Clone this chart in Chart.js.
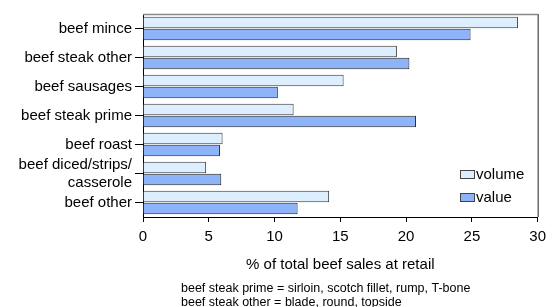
<!DOCTYPE html>
<html>
<head>
  <meta charset="utf-8">
  <script src="https://cdn.jsdelivr.net/npm/chart.js"></script>
  <style>
    html, body { margin: 0; padding: 0; background: #fff; }
    #wrap { width: 552px; height: 307px; }
  </style>
</head>
<body>
  <div id="wrap"><canvas id="beefChart"></canvas></div>
  <script>
    const categories = [
      'beef mince',
      'beef steak other',
      'beef sausages',
      'beef steak prime',
      'beef roast',
      ['beef diced/strips/', 'casserole'],
      'beef other'
    ];
    const volume = [28.5, 19.3, 15.25, 11.45, 6.05, 4.8, 14.15];
    const value = [24.9, 20.25, 10.25, 20.75, 5.85, 5.95, 11.75];
    const xTicks = [0, 5, 10, 15, 20, 25, 30];
    const footnotes = [
      'beef steak prime = sirloin, scotch fillet, rump, T-bone',
      'beef steak other = blade, round, topside'
    ];

    const FONT = 'Liberation Sans, Arial, sans-serif';

    // plot frame (top + right) and the legend inside the plot
    const framePlugin = {
      id: 'frame',
      beforeDatasetsDraw(chart) {
        const { ctx, chartArea: a } = chart;
        ctx.save();
        ctx.strokeStyle = '#888';
        ctx.lineWidth = 1.5;
        ctx.beginPath();
        ctx.moveTo(a.left, a.top + 0.5);
        ctx.lineTo(a.right, a.top + 0.5);
        ctx.stroke();
        ctx.strokeStyle = '#222';
        ctx.lineWidth = 1;
        ctx.beginPath();
        ctx.moveTo(a.right + 0.5, a.top);
        ctx.lineTo(a.right + 0.5, a.bottom);
        ctx.stroke();
        ctx.restore();
      },
      afterDraw(chart) {
        const { ctx } = chart;
        ctx.save();
        // legend
        ctx.font = '15px ' + FONT;
        ctx.textBaseline = 'middle';
        ctx.textAlign = 'left';
        chart.data.datasets.forEach((ds, i) => {
          const y = 175 + i * 23;
          ctx.fillStyle = ds.backgroundColor;
          ctx.fillRect(460.5, y - 4.5, 14, 8);
          ctx.strokeStyle = '#444';
          ctx.lineWidth = 1;
          ctx.strokeRect(460.5, y - 4.5, 14, 8);
          ctx.fillStyle = '#000';
          ctx.fillText(ds.label, 476, y);
        });
        // footnote
        ctx.font = '12.5px ' + FONT;
        footnotes.forEach((t, i) => {
          ctx.fillText(t, 181, 289 + i * 13.5);
        });
        ctx.restore();
      }
    };

    new Chart(document.getElementById('beefChart'), {
      type: 'bar',
      data: {
        labels: categories,
        datasets: [
          {
            label: 'volume',
            data: volume,
            backgroundColor: '#DDEEFF',
            borderColor: '#333',
            borderWidth: 1,
            categoryPercentage: 0.82,
            barPercentage: 0.96
          },
          {
            label: 'value',
            data: value,
            backgroundColor: '#8DB4F8',
            borderColor: '#222',
            borderWidth: 1,
            categoryPercentage: 0.82,
            barPercentage: 0.96
          }
        ]
      },
      options: {
        indexAxis: 'y',
        responsive: true,
        maintainAspectRatio: false,
        animation: false,
        layout: { padding: { left: 0, right: 13, top: 14, bottom: 33 } },
        plugins: {
          legend: { display: false },
          tooltip: { enabled: false }
        },
        scales: {
          x: {
            min: 0,
            max: 30,
            afterBuildTicks(scale) {
              scale.ticks = xTicks.map(v => ({ value: v }));
            },
            afterFit(scale) { scale.height = 57; },
            grid: {
              drawOnChartArea: false,
              drawTicks: true,
              tickLength: 5,
              color: '#000'
            },
            border: { color: '#000', width: 1 },
            ticks: {
              color: '#000',
              padding: 6,
              font: { family: FONT, size: 15 }
            },
            title: {
              display: true,
              text: '% of total beef sales at retail',
              color: '#000',
              padding: 0,
              font: { family: FONT, size: 15 }
            }
          },
          y: {
            afterFit(scale) { scale.width = 143; },
            grid: {
              offset: false,
              drawOnChartArea: false,
              drawTicks: true,
              tickLength: 8,
              color: '#000'
            },
            border: { color: '#000', width: 1 },
            ticks: {
              color: '#000',
              padding: 3,
              autoSkip: false,
              font: { family: FONT, size: 15 }
            }
          }
        }
      },
      plugins: [framePlugin]
    });
  </script>
</body>
</html>
